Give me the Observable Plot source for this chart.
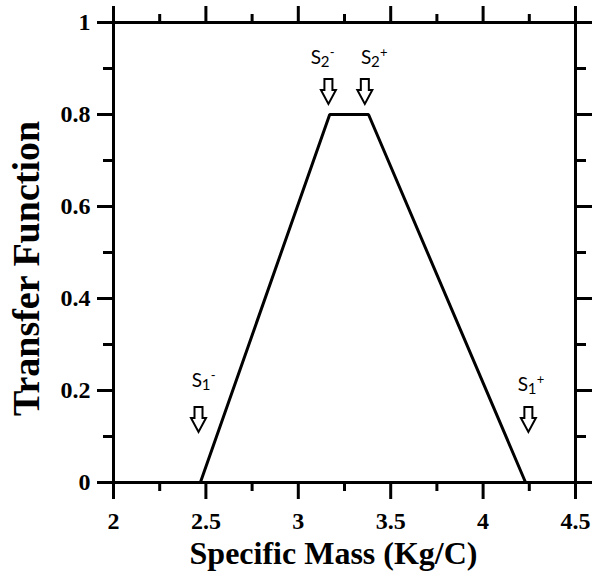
<!DOCTYPE html>
<html>
<head>
<meta charset="utf-8">
<script src="https://cdn.jsdelivr.net/npm/d3@7"></script>
<script src="https://cdn.jsdelivr.net/npm/@observablehq/plot@0.6"></script>
<style>
  html, body { margin: 0; padding: 0; background: #fff; }
</style>
</head>
<body>
<div id="chart"></div>
<script>
// Trapezoidal transfer function over specific mass
const specificMass = [2.47, 3.17, 3.38, 4.23];
const transferValue = [0, 0.8, 0.8, 0];

// Threshold markers (arrow position and label anchor)
const markerBase = ["S", "S", "S", "S"];
const markerSub = ["1", "2", "2", "1"];
const markerSup = ["-", "-", "+", "+"];
const arrowX = [2.46, 3.163, 3.36, 4.245];
const arrowY = [0.137, 0.85, 0.85, 0.137];
const labelX = [2.424, 3.068, 3.339, 4.187];
const labelY = [0.207, 0.909, 0.909, 0.2];

// Axis ticks
const xMajor = [2, 2.5, 3, 3.5, 4, 4.5];
const xMinor = [2.25, 2.75, 3.25, 3.75, 4.25];
const yMajor = [0, 0.2, 0.4, 0.6, 0.8, 1];
const yMinor = [0.1, 0.3, 0.5, 0.7, 0.9];

const curve = specificMass.map((x, i) => ({x, y: transferValue[i]}));
const markers = markerBase.map((s, i) => ({
  s, sub: markerSub[i], sup: markerSup[i],
  ax: arrowX[i], ay: arrowY[i], lx: labelX[i], ly: labelY[i]
}));

// Hollow downward block arrow
const downArrow = {
  draw(context) {
    context.moveTo(-4, -12.5);
    context.lineTo(4, -12.5);
    context.lineTo(4, -1.5);
    context.lineTo(7.5, -1.5);
    context.lineTo(0, 12.5);
    context.lineTo(-7.5, -1.5);
    context.lineTo(-4, -1.5);
    context.closePath();
  }
};

const serif = "'Liberation Serif', 'Times New Roman', serif";
const sans = "Lato, 'Open Sans', sans-serif";
const blank = () => "";

const chart = Plot.plot({
  width: 594,
  height: 579,
  marginLeft: 113,
  marginRight: 19,
  marginTop: 22,
  marginBottom: 97,
  style: {background: "#fff", color: "#000"},
  x: {domain: [2, 4.5]},
  y: {domain: [0, 1]},
  marks: [
    // major and minor ticks on all four sides, pointing outward
    Plot.axisX(xMajor, {anchor: "bottom", tickSize: 17, strokeWidth: 3, tickFormat: blank, label: null}),
    Plot.axisX(xMinor, {anchor: "bottom", tickSize: 9, strokeWidth: 3, tickFormat: blank, label: null}),
    Plot.axisX(xMajor, {anchor: "top", tickSize: 17, strokeWidth: 3, tickFormat: blank, label: null}),
    Plot.axisX(xMinor, {anchor: "top", tickSize: 9, strokeWidth: 3, tickFormat: blank, label: null}),
    Plot.axisY(yMajor, {anchor: "left", tickSize: 16, strokeWidth: 3, tickFormat: blank, label: null}),
    Plot.axisY(yMinor, {anchor: "left", tickSize: 10, strokeWidth: 3, tickFormat: blank, label: null}),
    Plot.axisY(yMajor, {anchor: "right", tickSize: 16, strokeWidth: 3, tickFormat: blank, label: null}),
    Plot.axisY(yMinor, {anchor: "right", tickSize: 10, strokeWidth: 3, tickFormat: blank, label: null}),
    Plot.frame({stroke: "#000", strokeWidth: 3}),
    // tick labels in bold serif
    Plot.text(xMajor, {x: d => d, text: d => String(d), frameAnchor: "bottom", lineAnchor: "middle", dy: 39, fontFamily: serif, fontWeight: "bold", fontSize: 24}),
    Plot.text(yMajor, {y: d => d, text: d => String(d), frameAnchor: "left", textAnchor: "end", lineAnchor: "middle", dx: -23, fontFamily: serif, fontWeight: "bold", fontSize: 24}),
    // transfer function
    Plot.line(curve, {x: "x", y: "y", stroke: "#000", strokeWidth: 3, strokeLinejoin: "miter"}),
    // threshold arrows
    Plot.dot(markers, {x: "ax", y: "ay", symbol: downArrow, r: 5, fill: "#fff", stroke: "#000", strokeWidth: 2}),
    // threshold labels: S with subscript and superscript
    Plot.text(markers, {x: "lx", y: "ly", text: "s", textAnchor: "start", lineAnchor: "bottom", fontFamily: sans, fontWeight: "normal", fontSize: 19}),
    Plot.text(markers, {x: "lx", y: "ly", text: "sub", textAnchor: "start", lineAnchor: "bottom", dx: 10, dy: 3, fontFamily: sans, fontWeight: "normal", fontSize: 15}),
    Plot.text(markers, {x: "lx", y: "ly", text: "sup", textAnchor: "start", lineAnchor: "bottom", dx: 19, dy: -7, fontFamily: sans, fontWeight: "normal", fontSize: 13}),
    // axis titles
    Plot.text(["Specific Mass (Kg/C)"], {frameAnchor: "bottom", textAnchor: "middle", lineAnchor: "bottom", dx: -11, dy: 81, fontSize: 32, fontWeight: "bold", fontFamily: serif}),
    Plot.text(["Transfer Function"], {frameAnchor: "left", textAnchor: "middle", lineAnchor: "bottom", rotate: -90, dx: -75, dy: 16, fontSize: 38, fontWeight: "bold", fontFamily: serif})
  ]
});

document.getElementById("chart").appendChild(chart);
</script>
</body>
</html>
